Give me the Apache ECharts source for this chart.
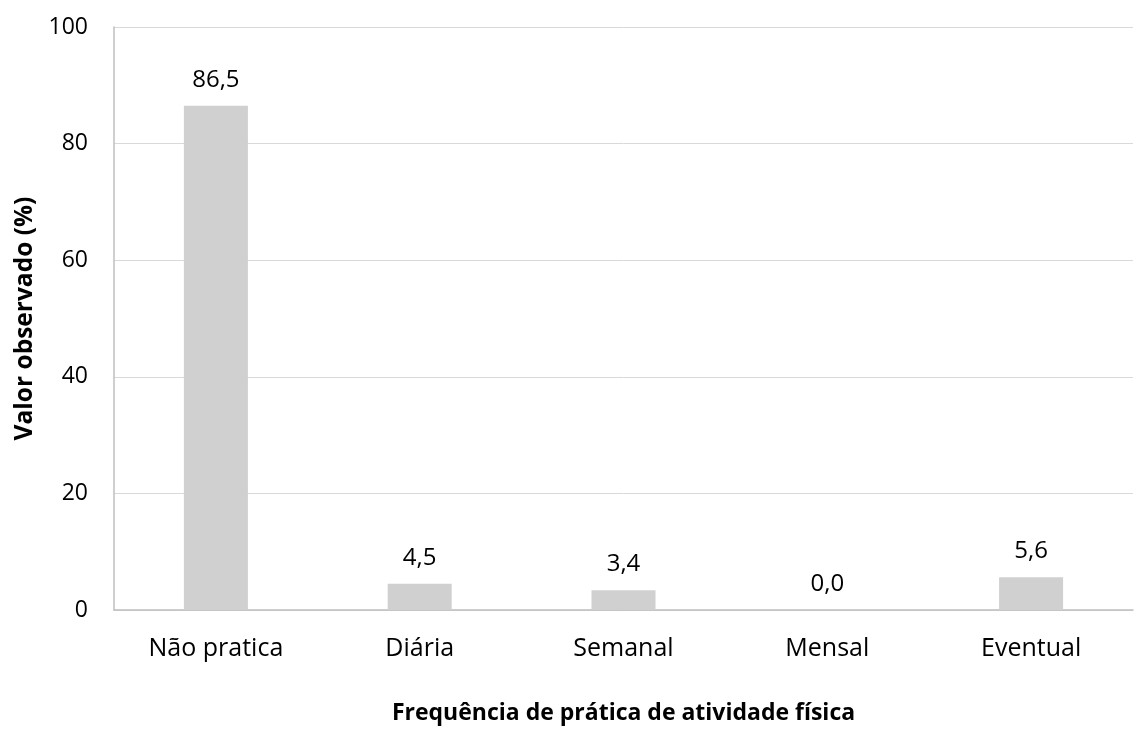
<!DOCTYPE html>
<html>
<head>
<meta charset="utf-8">
<title>Frequência de prática de atividade física</title>
<script src="https://cdn.jsdelivr.net/npm/echarts@6/dist/echarts.min.js"></script>
<style>
  html, body { margin: 0; padding: 0; background: #fff; }
  #main { width: 1134px; height: 740px; }
</style>
</head>
<body>
<div id="main"></div>
<script>
var categorias = ['Não pratica', 'Diária', 'Semanal', 'Mensal', 'Eventual'];
var valores = [86.5, 4.5, 3.4, 0.0, 5.6];
var fonte = '"Open Sans", "Noto Sans", sans-serif';

var chart = echarts.init(document.getElementById('main'));
chart.setOption({
  animation: false,
  textStyle: { fontFamily: fonte },
  grid: { left: 114, right: 1, top: 27, bottom: 130 },
  xAxis: {
    type: 'category',
    data: categorias,
    name: 'Frequência de prática de atividade física',
    nameLocation: 'middle',
    nameGap: 92,
    nameTextStyle: { fontFamily: fonte, fontSize: 23, fontWeight: 'bold', color: '#000' },
    axisLine: { lineStyle: { color: '#bfbfbf', width: 1.5 } },
    axisTick: { show: false },
    axisLabel: { fontFamily: fonte, fontSize: 25, color: '#000', margin: 26 }
  },
  yAxis: {
    type: 'value',
    min: 0,
    max: 100,
    interval: 20,
    name: 'Valor observado (%)',
    nameLocation: 'middle',
    nameGap: 76,
    nameTextStyle: { fontFamily: fonte, fontSize: 24.5, fontWeight: 'bold', color: '#000' },
    axisLine: { show: true, lineStyle: { color: '#bfbfbf', width: 1.5 } },
    axisTick: { show: false },
    axisLabel: { fontFamily: fonte, fontSize: 23, color: '#000', margin: 26 },
    splitLine: { lineStyle: { color: '#d9d9d9', width: 1 } }
  },
  series: [{
    type: 'bar',
    data: valores,
    barWidth: 64,
    itemStyle: { color: '#d0d0d0' },
    label: {
      show: true,
      position: 'top',
      distance: 14,
      fontFamily: fonte,
      fontSize: 24,
      color: '#000',
      formatter: function (p) { return p.value.toFixed(1).replace('.', ','); }
    }
  }]
});
</script>
</body>
</html>
